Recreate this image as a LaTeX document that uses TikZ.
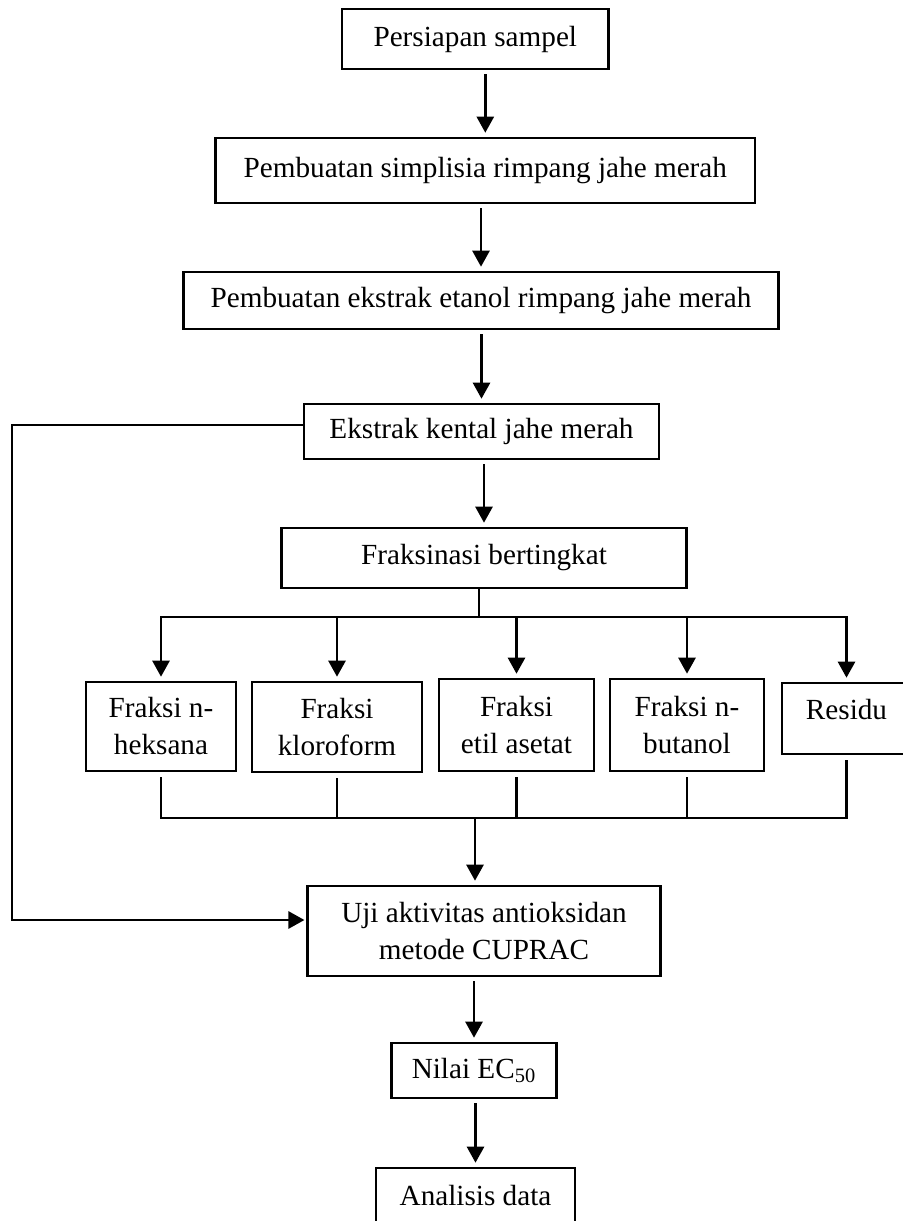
\documentclass[tikz,border=0pt]{standalone}
\usepackage{fontspec}
\setmainfont{Liberation Serif}
\usepackage{tikz}
\usetikzlibrary{arrows.meta}
\tikzset{
    flow-box/.style = {draw=black, line width=1.3pt, rectangle, align=center, inner sep=2pt, font=\fontsize{14.6pt}{18.5pt}\selectfont},
    flow-line/.style = {draw=black, line width=1.3pt, line cap=rect},
    flow-arrow/.style = {flow-line, line cap=butt, -{Triangle[length=8pt, width=8.5pt]}, shorten <=2pt, shorten >=2pt},
}

\begin{document}
\begin{tikzpicture}[x=0.5pt, y=-0.5pt]
\useasboundingbox[fill=white] (0,0) rectangle (902,1221);

\node[flow-box, minimum width=133.3pt, minimum height=30pt] (persiapan) at (475.3,39) {Persiapan sampel};
\node[flow-box, minimum width=269.7pt, minimum height=32.5pt] (simplisia) at (485.3,170.5) {Pembuatan simplisia rimpang jahe merah};
\node[flow-box, minimum width=297.5pt, minimum height=28.5pt] (etanol) at (481,300.5) {Pembuatan ekstrak etanol rimpang jahe merah};
\node[flow-box, minimum width=177.5pt, minimum height=27.5pt] (kental) at (481.5,431.5) {Ekstrak kental jahe merah};
\node[flow-box, minimum width=202.25pt, minimum height=30pt] (fraksinasi) at (484,558) {Fraksinasi bertingkat};

\node[flow-box, minimum width=75pt, minimum height=44.5pt] (heksana) at (161,726.5) {Fraksi n-\\heksana};
\node[flow-box, minimum width=85pt, minimum height=45pt] (kloroform) at (337,727) {Fraksi\\kloroform};
\node[flow-box, minimum width=77.5pt, minimum height=46pt] (etil) at (516.5,725) {Fraksi\\etil asetat};
\node[flow-box, minimum width=77pt, minimum height=46pt] (butanol) at (687,725) {Fraksi n-\\butanol};
\node[flow-box, minimum width=64.5pt, text height=18pt, text depth=17.5pt, inner ysep=0pt] (residu) at (846.5,718.5) {Residu};

\node[flow-box, minimum width=176.25pt, minimum height=45pt] (uji) at (484,931) {Uji aktivitas antioksidan\\metode CUPRAC};
\node[flow-box, minimum width=82.75pt, minimum height=27.5pt] (nilai) at (474,1070.5) {Nilai EC\textsubscript{50}};
\node[flow-box, minimum width=99.5pt, minimum height=27.5pt] (analisis) at (475.5,1195.5) {Analisis data};

\draw[flow-arrow] (simplisia.north |- persiapan.south) -- (simplisia.north);
\draw[flow-arrow] (etanol.north |- simplisia.south) -- (etanol.north);
\draw[flow-arrow] (kental.north |- etanol.south) -- (kental.north);
\draw[flow-arrow] (fraksinasi.north |- kental.south) -- (fraksinasi.north);

\coordinate (split) at (479,617);
\draw[flow-line] (fraksinasi.south -| split) -- (split);
\draw[flow-line] (heksana.north |- split) -- (residu.north |- split);
\foreach \n in {heksana,kloroform,etil,butanol,residu}
    \draw[flow-arrow, shorten <=0pt] (\n.north |- split) -- (\n.north);

\coordinate (join) at (475,818);
\foreach \n in {heksana,kloroform,etil,butanol,residu}
    \draw[flow-line, shorten <=3pt] (\n.south) -- (\n.south |- join);
\draw[flow-line] (heksana.south |- join) -- (residu.south |- join);
\draw[flow-arrow, shorten <=0pt] (join) -- (join |- uji.north);

\coordinate (rail-top) at (12,425);
\coordinate (rail-bottom) at (12,920);
\draw[flow-line, -{Triangle[length=8pt, width=8.5pt]}, shorten >=1pt] (kental.west |- rail-top) -- (rail-top) -- (rail-bottom) -- (uji.west |- rail-bottom);

\draw[flow-arrow] (nilai.north |- uji.south) -- (nilai.north);
\draw[flow-arrow] (analisis.north |- nilai.south) -- (analisis.north);
\end{tikzpicture}
\end{document}
